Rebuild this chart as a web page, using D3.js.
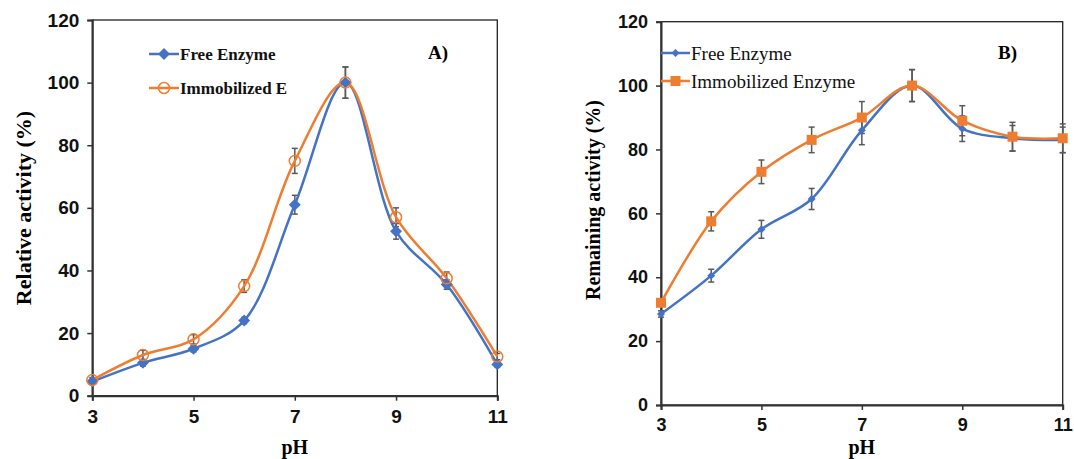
<!DOCTYPE html>
<html>
<head>
<meta charset="utf-8">
<script src="https://cdn.jsdelivr.net/npm/d3@7"></script>
<style>
  body { margin: 0; background: #fff; }
  svg { display: block; }
</style>
</head>
<body>
<svg id="chart" width="1074" height="459"></svg>
<script>
var pH = [3, 4, 5, 6, 7, 8, 9, 10, 11];
var xTicks = [3, 5, 7, 9, 11];
var yTicks = [0, 20, 40, 60, 80, 100, 120];

// panel A - relative activity
var freeA = [4.5, 10.5, 15, 24, 61, 100, 52.5, 35.5, 10];
var freeAErr = [0.8, 1, 1, 1, 3, 5, 2.5, 1.5, 0.8];
var immA = [5, 13, 18, 35, 75, 100, 57, 37.5, 12.5];
var immAErr = [0.8, 1.5, 1.5, 2, 4, 5, 3, 2, 1];

// panel B - remaining activity
var freeB = [28.5, 40.5, 55, 64.5, 86, 100, 86.5, 83.5, 83];
var freeBErr = [1, 2, 2.8, 3.3, 4.5, 5, 4, 4, 4];
var immB = [32, 57.5, 73, 83, 90, 100, 89, 84, 83.5];
var immBErr = [1, 3, 3.7, 4, 5, 5, 4.7, 4.5, 4.5];

var blue = "#4472c4", orange = "#ed7d31", errColor = "#595959";
var svg = d3.select("#chart");

function drawPanel(cfg){
    var x = d3.scaleLinear().domain([3, 11]).range([cfg.x0, cfg.x1]);
    var y = d3.scaleLinear().domain([0, 120]).range([cfg.y0, cfg.y1]);
    var g = svg.append("g");

    // frame
    g.append("rect")
        .attr("x", cfg.x0).attr("y", cfg.y1)
        .attr("width", cfg.x1 - cfg.x0).attr("height", cfg.y0 - cfg.y1)
        .attr("fill", "none").attr("stroke", "#222").attr("stroke-width", 1.3);

    var yAxis = g.append("g")
        .attr("transform", "translate(" + cfg.x0 + ",0)")
        .call(d3.axisLeft(y).tickValues(yTicks).tickSize(5).tickPadding(cfg.tickPad));
    var xAxis = g.append("g")
        .attr("transform", "translate(0," + cfg.y0 + ")")
        .call(d3.axisBottom(x).tickValues(xTicks).tickSize(5).tickPadding(cfg.xTickPad));
    [xAxis, yAxis].forEach(function(a){
        a.select(".domain").attr("stroke", "#333").attr("stroke-width", 2);
        a.selectAll(".tick line").attr("stroke", "#333").attr("stroke-width", 1.5);
        a.selectAll("text")
            .attr("fill", "#111")
            .style("font-family", "'Liberation Sans', Arial, sans-serif")
            .style("font-weight", "bold")
            .style("font-size", cfg.tickFont + "px");
    });

    var line = d3.line()
        .x(function(d, i){ return x(pH[i]); })
        .y(function(d){ return y(d); })
        .curve(d3.curveCatmullRom.alpha(0.5));

    cfg.series.forEach(function(s){
        // error bars
        var eb = g.append("g").attr("stroke", errColor).attr("stroke-width", 1.5);
        s.values.forEach(function(v, i){
            var cx = x(pH[i]), top = y(v + s.err[i]), bot = y(v - s.err[i]);
            eb.append("line").attr("x1", cx).attr("x2", cx).attr("y1", top).attr("y2", bot);
            eb.append("line").attr("x1", cx - 3).attr("x2", cx + 3).attr("y1", top).attr("y2", top);
            eb.append("line").attr("x1", cx - 3).attr("x2", cx + 3).attr("y1", bot).attr("y2", bot);
        });
    });
    cfg.series.forEach(function(s){
        g.append("path")
            .datum(s.values)
            .attr("d", line)
            .attr("fill", "none")
            .attr("stroke", s.color)
            .attr("stroke-width", 2.5);
    });
    cfg.series.forEach(function(s){
        s.values.forEach(function(v, i){
            drawMarker(g, s, x(pH[i]), y(v));
        });
    });

    // legend
    cfg.series.forEach(function(s, i){
        var ly = cfg.legY[i];
        g.append("line")
            .attr("x1", cfg.legX0).attr("x2", cfg.legX1)
            .attr("y1", ly).attr("y2", ly)
            .attr("stroke", s.color).attr("stroke-width", 2.5);
        drawMarker(g, s, (cfg.legX0 + cfg.legX1) / 2, ly);
        g.append("text")
            .attr("x", cfg.legX1 + 1).attr("y", ly)
            .attr("dy", "0.35em")
            .style("font-family", "'Liberation Serif', 'Times New Roman', serif")
            .style("font-weight", cfg.legWeight)
            .style("font-size", cfg.legFont + "px")
            .attr("fill", "#111")
            .text(s.name);
    });

    g.append("text")
        .attr("x", cfg.tagX).attr("y", 59)
        .style("font-family", "'Liberation Serif', 'Times New Roman', serif")
        .style("font-weight", "bold").style("font-size", "19px")
        .text(cfg.tag);

    g.append("text")
        .attr("x", (cfg.x0 + cfg.x1) / 2).attr("y", cfg.pHY)
        .attr("text-anchor", "middle")
        .style("font-family", "'Liberation Serif', 'Times New Roman', serif")
        .style("font-weight", "bold").style("font-size", "20px")
        .text("pH");

    g.append("text")
        .attr("transform", "translate(" + cfg.yTitleX + "," + cfg.yTitleY + ") rotate(-90)")
        .attr("text-anchor", "middle")
        .attr("dy", "0.35em")
        .style("font-family", "'Liberation Serif', 'Times New Roman', serif")
        .style("font-weight", "bold").style("font-size", cfg.yTitleFont + "px")
        .text(cfg.yTitle);
}

function drawMarker(g, s, cx, cy){
    if (s.marker === "diamond"){
        g.append("path")
            .attr("d", d3.symbol(d3.symbolDiamond2, s.size)())
            .attr("transform", "translate(" + cx + "," + cy + ")")
            .attr("fill", s.color);
    } else if (s.marker === "circle"){
        g.append("circle")
            .attr("cx", cx).attr("cy", cy).attr("r", 5.5)
            .attr("fill", "none").attr("stroke", s.color).attr("stroke-width", 1.5);
    } else {
        g.append("rect")
            .attr("x", cx - 5).attr("y", cy - 5)
            .attr("width", 10).attr("height", 10)
            .attr("fill", s.color);
    }
}

drawPanel({
    x0: 92.3, x1: 497.3, y0: 395.7, y1: 20,
    tickPad: 8, xTickPad: 9, tickFont: 19,
    series: [
        {name: "Free Enzyme", values: freeA, err: freeAErr, color: blue, marker: "diamond", size: 90},
        {name: "Immobilized E", values: immA, err: immAErr, color: orange, marker: "circle"}
    ],
    legX0: 149, legX1: 179, legY: [54, 88], legFont: 17, legWeight: "bold",
    tag: "A)", tagX: 428,
    pHY: 454,
    yTitle: "Relative activity (%)", yTitleX: 23, yTitleY: 208, yTitleFont: 22
});

drawPanel({
    x0: 661, x1: 1062.7, y0: 405, y1: 21.7,
    tickPad: 8, xTickPad: 8, tickFont: 18,
    series: [
        {name: "Free Enzyme", values: freeB, err: freeBErr, color: blue, marker: "diamond", size: 40},
        {name: "Immobilized Enzyme", values: immB, err: immBErr, color: orange, marker: "square"}
    ],
    legX0: 661, legX1: 690, legY: [53, 81], legFont: 19, legWeight: "normal",
    tag: "B)", tagX: 998,
    pHY: 454,
    yTitle: "Remaining activity (%)", yTitleX: 593, yTitleY: 200, yTitleFont: 20
});
</script>
</body>
</html>
